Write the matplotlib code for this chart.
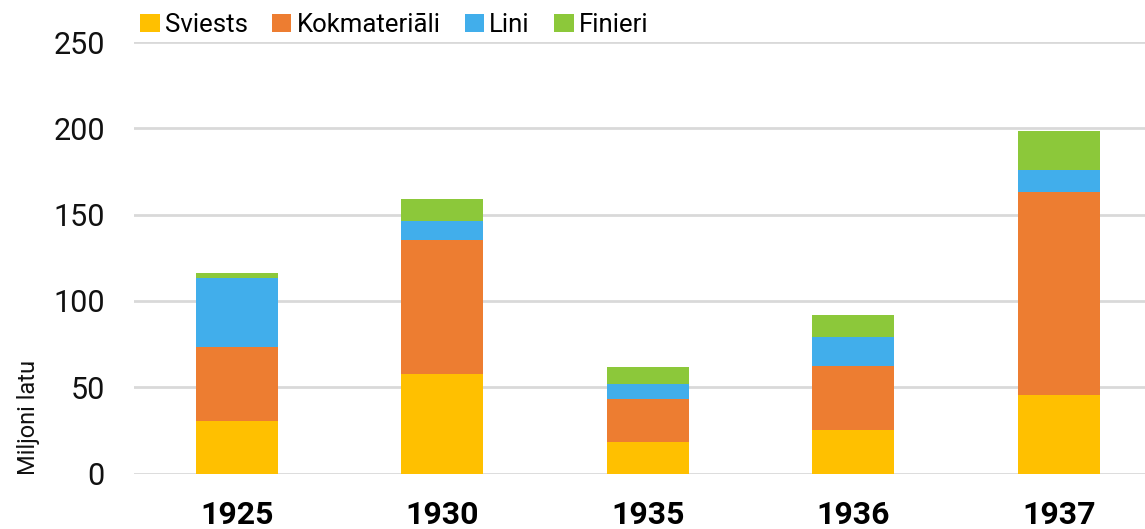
import numpy as np
import matplotlib.pyplot as plt

years = ["1925", "1930", "1935", "1936", "1937"]
series_names = ["Sviests", "Kokmateriāli", "Lini", "Finieri"]
sviests = [30.2, 57.4, 18.4, 25.0, 45.2]
kokmateriali = [42.9, 77.8, 24.9, 37.3, 118.0]
lini = [40.4, 11.0, 8.7, 16.6, 12.8]
finieri = [2.5, 12.8, 9.9, 12.9, 22.2]

colors = ["#ffc000", "#ed7d31", "#41aeeb", "#8cc83a"]

plt.rcParams['font.family'] = ['Roboto', 'DejaVu Sans']

fig = plt.figure(figsize=(11.45, 5.29), dpi=100)
ax = fig.add_axes([134 / 1145, 1 - 473.5 / 529, 1 - 134 / 1145, (473.5 - 42) / 529])

x = np.arange(len(years))
bottom = np.zeros(len(years))
for name, values, color in zip(series_names, [sviests, kokmateriali, lini, finieri], colors):
    ax.bar(x, values, width=0.4, bottom=bottom, color=color, label=name, zorder=3)
    bottom = bottom + np.array(values)

ax.set_xlim(-0.5, 4.42)
ax.set_ylim(0, 250)
ax.set_yticks([0, 50, 100, 150, 200, 250])
ax.yaxis.grid(True, color="#d9d9d9", linewidth=2, zorder=0)
for side in ["top", "right", "left", "bottom"]:
    ax.spines[side].set_visible(False)
ax.tick_params(axis='y', length=0, pad=21, labelsize=22, labelcolor="#111111")
ax.tick_params(axis='x', length=0, pad=19, labelsize=23)
ax.set_xticks(x)
ax.set_xticklabels(years, fontweight='bold')

fig.text(29 / 1145, 1 - 417 / 529, "Miljoni latu", rotation=90, ha='center', va='center',
         fontsize=17, color="#111111")

fig.legend(loc='center left', bbox_to_anchor=(130 / 1145, 1 - 25 / 529), ncol=4,
           frameon=False, fontsize=18.5, handlelength=0.75, handleheight=0.75,
           handletextpad=0.2, columnspacing=0.95, borderaxespad=0)

plt.savefig("out.png", dpi=100)
